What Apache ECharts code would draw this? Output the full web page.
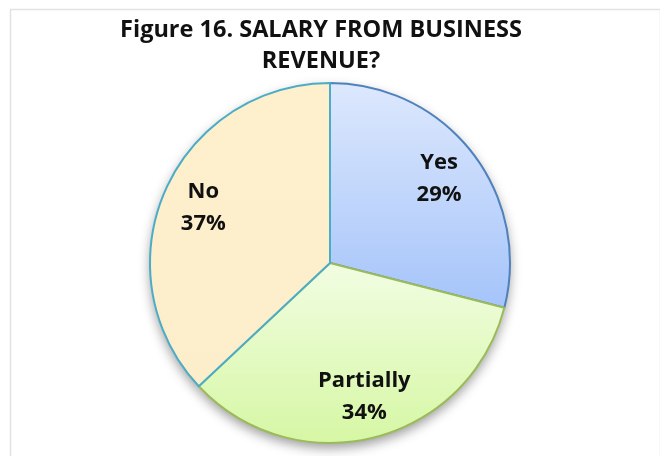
<!DOCTYPE html>
<html>
<head>
<meta charset="utf-8">
<title>Salary from business revenue</title>
<script src="https://cdn.jsdelivr.net/npm/echarts@6/dist/echarts.min.js"></script>
<style>
  html, body { margin: 0; padding: 0; background: #fff; }
  #chart { width: 660px; height: 456px; }
</style>
</head>
<body>
<div id="chart"></div>
<script>
// data
const categories = ['Yes', 'Partially', 'No']
const values = [29, 34, 37]
const percentLabels = ['29%', '34%', '37%']

// fill / border per slice
const fillTop = ['#dde8fd', '#f1fde2', '#fef0cd']
const fillBottom = ['#a5c4fa', '#d6f7a4', '#fdeecb']
const borderColors = ['#4f81bd', '#9bbb59', '#4bacc6']

const pieCenter = [330, 263]
const pieRadius = 180

var myChart = echarts.init(document.getElementById('chart'))

function sliceData(withStyle){
  return categories.map(function(name, i){
    var item = { name: name, value: values[i] }
    if(withStyle){
      item.itemStyle = {
        color: new echarts.graphic.LinearGradient(0, 0, 0, 1, [
          { offset: 0, color: fillTop[i] },
          { offset: 1, color: fillBottom[i] }
        ]),
        borderColor: borderColors[i]
      }
    }
    return item
  })
}

const option = {
  backgroundColor: '#fff',
  animation: false,
  title: {
    text: 'Figure 16. SALARY FROM BUSINESS\nREVENUE?',
    left: 316,
    top: 10,
    textAlign: 'center',
    textStyle: {
      fontFamily: 'Open Sans',
      fontWeight: 'bold',
      fontSize: 23.5,
      lineHeight: 31,
      color: '#111'
    }
  },
  // thin frame round the figure
  graphic: [{
    type: 'rect',
    left: 8,
    top: 7,
    shape: { width: 650, height: 470 },
    style: { fill: 'none', stroke: '#e2e2e2', lineWidth: 1.5 },
    silent: true,
    z: -10
  }],
  series: [
    // shadow layer underneath
    {
      type: 'pie',
      center: pieCenter,
      radius: pieRadius,
      startAngle: 90,
      clockwise: true,
      silent: true,
      z: 1,
      label: { show: false },
      labelLine: { show: false },
      itemStyle: {
        color: '#fff',
        shadowBlur: 12,
        shadowOffsetY: 5,
        shadowColor: 'rgba(0,0,0,0.4)'
      },
      data: sliceData(false)
    },
    // the pie itself
    {
      type: 'pie',
      center: pieCenter,
      radius: pieRadius,
      startAngle: 90,
      clockwise: true,
      silent: true,
      z: 2,
      label: { show: false },
      labelLine: { show: false },
      itemStyle: { borderWidth: 2 },
      data: sliceData(true)
    },
    // transparent ring only used to place the labels at ~3/4 radius
    {
      type: 'pie',
      center: pieCenter,
      radius: [pieRadius * 0.5, pieRadius],
      startAngle: 90,
      clockwise: true,
      silent: true,
      z: 3,
      itemStyle: { color: 'transparent', borderWidth: 0 },
      labelLine: { show: false },
      label: {
        show: true,
        position: 'inside',
        fontFamily: 'Open Sans',
        fontWeight: 'bold',
        fontSize: 22,
        lineHeight: 32,
        color: '#111',
        formatter: function(p){
          return p.name + '\n' + percentLabels[p.dataIndex]
        }
      },
      data: sliceData(false)
    }
  ]
}

option && myChart.setOption(option)
</script>
</body>
</html>
